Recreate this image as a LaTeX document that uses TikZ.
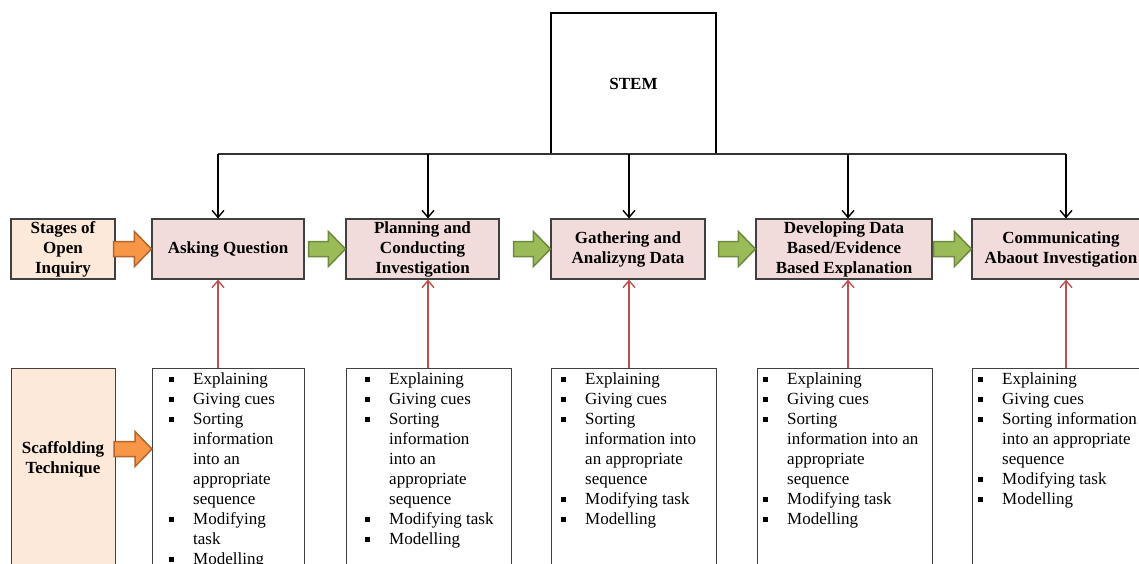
\documentclass[tikz,border=0pt]{standalone}
\usepackage{fontspec}
\setmainfont{Liberation Serif}
\usepackage{tikz}
\usetikzlibrary{arrows.meta, calc}

\definecolor{stagepink}{HTML}{F2DCDB}
\definecolor{peach}{HTML}{FDE9D9}
\definecolor{boxline}{HTML}{404040}
\definecolor{supportred}{HTML}{C0504D}
\definecolor{orangefill}{HTML}{F79646}
\definecolor{orangeline}{HTML}{B6652C}
\definecolor{greenfill}{HTML}{9BBB59}
\definecolor{greenline}{HTML}{6E8B3D}

\tikzset{
  stagebox/.style={draw=boxline, line width=1.2pt, fill=stagepink, minimum height=60, inner sep=0pt,
    align=center, font=\bfseries\fontsize{17}{20}\selectfont},
  peachbox/.style={stagebox, fill=peach},
  techbox/.style={draw=boxline, line width=1.2pt, fill=white, anchor=north west, minimum height=232, inner sep=0pt},
  techlist/.style={anchor=north west, inner sep=0pt, yshift=-2, font=\fontsize{17}{20}\selectfont},
  down/.style={line width=1.4pt, -{Straight Barb[length=7pt,width=12pt]}},
  up/.style={line width=1.4pt, draw=supportred, -{Straight Barb[length=7pt,width=12pt]}},
  orangearrow/.style={fill=orangefill, draw=orangeline, line width=1.5pt},
  greenarrow/.style={fill=greenfill, draw=greenline, line width=1.5pt}
}

\newcommand{\sqbul}{\rule[2.5pt]{4.5pt}{4.5pt}}
% fat arrow from #1 to the point #2
\newcommand{\blockarrow}[3]{%
  \filldraw[#3] let \p1=#1, \p2=#2 in
    (\x1,\y2+7.5pt) -- (\x2-17pt,\y2+7.5pt) -- (\x2-17pt,\y2+17.5pt) -- (\p2)
    -- (\x2-17pt,\y2-17.5pt) -- (\x2-17pt,\y2-7.5pt) -- (\x1,\y2-7.5pt) -- cycle;}

\begin{document}
\begin{tikzpicture}[x=1pt, y=-1pt]
  \clip (0,0) rectangle (1139,563);

  % STEM on top
  \node[draw=black, line width=1.2pt, minimum width=165, minimum height=141, inner sep=0pt,
        font=\bfseries\fontsize{17}{20}\selectfont] (stem) at (633.5,83.5) {STEM};

  % Stages of open inquiry
  \node[peachbox, minimum width=104] (soi) at (63,249) {Stages of\\Open\\Inquiry};
  \node[stagebox, minimum width=152] (s1) at (228,249) {Asking Question};
  \node[stagebox, minimum width=153] (s2) at (422.5,249) {Planning and\\Conducting\\Investigation};
  \node[stagebox, minimum width=154] (s3) at (628,249) {Gathering and\\Analizyng Data};
  \node[stagebox, minimum width=176] (s4) at (844,249) {Developing Data\\Based/Evidence\\Based Explanation};
  \node[stagebox, minimum width=178] (s5) at (1061,249) {Communicating\\Abaout Investigation};

  % Scaffolding technique
  \node[techbox, fill=peach, minimum width=104] (scaf) at (11,368) {};
  \node[font=\bfseries\fontsize{17}{20}\selectfont, align=center, inner sep=0pt] (scaftxt) at (63,459) {Scaffolding\\Technique};
  \node[techbox, minimum width=152] (t1) at (152,368) {};
  \node[techbox, minimum width=165] (t2) at (346,368) {};
  \node[techbox, minimum width=165] (t3) at (551,368) {};
  \node[techbox, minimum width=175] (t4) at (757,368) {};
  \node[techbox, minimum width=178] (t5) at (972,368) {};

  \node[techlist, xshift=17] (l1) at (t1.north west) {\begin{tabular}{@{}l@{\hspace{19.5pt}}l@{}}
    \sqbul & Explaining\\ \sqbul & Giving cues\\ \sqbul & Sorting\\ & information\\ & into an\\
    & appropriate\\ & sequence\\ \sqbul & Modifying\\ & task\\ \sqbul & Modelling\end{tabular}};
  \node[techlist, xshift=19] (l2) at (t2.north west) {\begin{tabular}{@{}l@{\hspace{19.5pt}}l@{}}
    \sqbul & Explaining\\ \sqbul & Giving cues\\ \sqbul & Sorting\\ & information\\ & into an\\
    & appropriate\\ & sequence\\ \sqbul & Modifying task\\ \sqbul & Modelling\end{tabular}};
  \node[techlist, xshift=10] (l3) at (t3.north west) {\begin{tabular}{@{}l@{\hspace{19.5pt}}l@{}}
    \sqbul & Explaining\\ \sqbul & Giving cues\\ \sqbul & Sorting\\ & information into\\
    & an appropriate\\ & sequence\\ \sqbul & Modifying task\\ \sqbul & Modelling\end{tabular}};
  \node[techlist, xshift=6] (l4) at (t4.north west) {\begin{tabular}{@{}l@{\hspace{19.5pt}}l@{}}
    \sqbul & Explaining\\ \sqbul & Giving cues\\ \sqbul & Sorting\\ & information into an\\
    & appropriate\\ & sequence\\ \sqbul & Modifying task\\ \sqbul & Modelling\end{tabular}};
  \node[techlist, xshift=6] (l5) at (t5.north west) {\begin{tabular}{@{}l@{\hspace{19.5pt}}l@{}}
    \sqbul & Explaining\\ \sqbul & Giving cues\\ \sqbul & Sorting information\\
    & into an appropriate\\ & sequence\\ \sqbul & Modifying task\\ \sqbul & Modelling\end{tabular}};

  % bus line under STEM
  \coordinate (b1) at (218,154);
  \coordinate (b2) at (428,154);
  \coordinate (b3) at (629,154);
  \coordinate (b4) at (848,154);
  \coordinate (b5) at (1066,154);
  \draw[line width=1.4pt, draw=black!80] (b1) -- (b5);
  \foreach \i in {1,...,5} {
    \draw[down] (b\i) -- (b\i |- s\i.north);
    \draw[up] (b\i |- t\i.north) -- (b\i |- s\i.south);
  }

  % fat arrows
  \blockarrow{($(soi.east)+(-2,0)$)}{(s1.west)}{orangearrow}
  \blockarrow{($(scaf.east |- 0,449)+(-2,0)$)}{(t1.west |- 0,449)}{orangearrow}
  \blockarrow{($(s1.east)+(4,0)$)}{(s2.west)}{greenarrow}
  \blockarrow{($(s2.east)+(14,0)$)}{(s3.west)}{greenarrow}
  \blockarrow{($(s3.east)+(13,0)$)}{(s4.west)}{greenarrow}
  \blockarrow{($(s4.east)+(1,0)$)}{(s5.west)}{greenarrow}
\end{tikzpicture}
\end{document}
